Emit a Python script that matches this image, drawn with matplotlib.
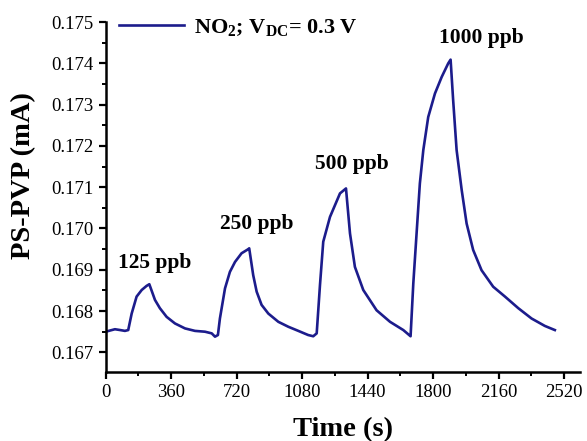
import matplotlib
matplotlib.use("Agg")
import matplotlib.pyplot as plt
from matplotlib.ticker import MultipleLocator, FormatStrFormatter

# Time (s) and current (mA)
time_s = [0, 25, 51, 80, 106, 124,
          143, 170, 198, 225, 240,
          271, 298, 335, 381, 436, 491, 546, 583, 601, 617,
          628, 656, 683, 711, 747, 784, 789,
          811, 830, 857, 894, 949, 1004, 1059, 1113, 1141, 1160,
          1178, 1196, 1233, 1288, 1321,
          1343, 1370, 1416, 1489, 1563, 1636, 1676,
          1691, 1709, 1727, 1746, 1773, 1810, 1847, 1883, 1896,
          1910, 1929, 1957, 1984, 2020, 2066, 2130, 2195, 2268, 2341, 2414, 2469]
current_mA = [0.16750, 0.16753, 0.16756, 0.16754, 0.16752, 0.16754,
              0.16794, 0.16835, 0.16851, 0.16861, 0.16865,
              0.16827, 0.16807, 0.16786, 0.16770, 0.16758, 0.16752, 0.16750, 0.16746, 0.16738, 0.16742,
              0.16782, 0.16855, 0.16895, 0.16919, 0.16940, 0.16950, 0.16952,
              0.16887, 0.16847, 0.16815, 0.16794, 0.16774, 0.16762, 0.16752, 0.16742, 0.16739, 0.16746,
              0.16863, 0.16968, 0.17028, 0.17085, 0.17097,
              0.16988, 0.16907, 0.16851, 0.16802, 0.16774, 0.16754, 0.16739,
              0.16867, 0.16988, 0.17109, 0.17190, 0.17270, 0.17327, 0.17367, 0.17400, 0.17409,
              0.17311, 0.17190, 0.17093, 0.17012, 0.16948, 0.16899, 0.16859, 0.16835, 0.16807, 0.16782, 0.16764, 0.16754]

conc_labels = ["125 ppb", "250 ppb", "500 ppb", "1000 ppb"]
label_x = [270, 828, 1355, 2065]
label_y = [0.16893, 0.16987, 0.17131, 0.17438]

x_ticks = [0, 360, 720, 1080, 1440, 1800, 2160, 2520]

serif = ["Liberation Serif", "DejaVu Serif"]
plt.rcParams["font.family"] = serif
plt.rcParams["mathtext.fontset"] = "custom"
plt.rcParams["mathtext.rm"] = "Liberation Serif"
plt.rcParams["mathtext.bf"] = "Liberation Serif:bold"

fig = plt.figure(figsize=(5.87, 4.41), dpi=100)
ax = fig.add_axes([0.180, 0.157, 0.808, 0.793])

color = "#1c1c8c"
ax.plot(time_s, current_mA, color=color, lw=1.9,
        label=r"$\mathbf{NO_2}$; V$_{\mathbf{DC}}$= 0.3 V")

for t, x, y in zip(conc_labels, label_x, label_y):
    ax.text(x, y, t, ha="center", va="bottom", fontsize=15.5, fontweight="bold")

ax.set_xlim(0, 2607)
ax.set_ylim(0.16653, 0.175)
ax.set_xticks(x_ticks)
ax.xaxis.set_minor_locator(MultipleLocator(180))
ax.yaxis.set_major_locator(MultipleLocator(0.001))
ax.yaxis.set_minor_locator(MultipleLocator(0.0005))
ax.yaxis.set_major_formatter(FormatStrFormatter("%.3f"))

for s in ["top", "right"]:
    ax.spines[s].set_visible(False)
for s in ["left", "bottom"]:
    ax.spines[s].set_linewidth(1.8)
ax.tick_params(which="major", direction="out", length=5, width=1.6, labelsize=13.5)
ax.tick_params(which="minor", direction="out", length=3, width=1.4)

ax.set_xlabel("Time (s)", fontsize=20.5, fontweight="bold", labelpad=12)
ax.set_ylabel("PS-PVP (mA)", fontsize=20.5, fontweight="bold")
ax.yaxis.set_label_coords(-0.147, 0.561)

leg = ax.legend(loc="upper left", bbox_to_anchor=(-0.013, 1.071), frameon=False,
                handlelength=2.9, handletextpad=0.45,
                prop={"weight": "bold", "size": 16})

fig.savefig("out.png", dpi=100)
